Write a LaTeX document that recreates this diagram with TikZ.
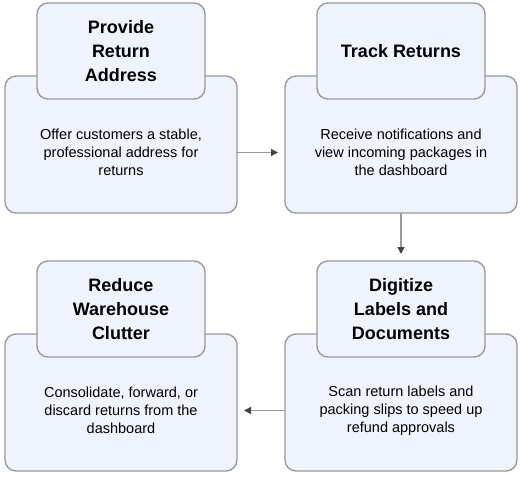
\documentclass[tikz,border=0pt]{standalone}
\usepackage{fontspec}
\setmainfont{Liberation Sans}
\usetikzlibrary{arrows.meta,positioning}
\definecolor{cardfill}{HTML}{EEF3FE}
\definecolor{cardline}{HTML}{9A9A9A}
\definecolor{tipgray}{HTML}{444444}

\begin{document}
\begin{tikzpicture}
[x=1pt,y=-1pt,
node distance=48pt,
card/.style={rectangle,rounded corners=11pt,draw=cardline,fill=cardfill,line width=1.4pt,
  outer sep=0pt,minimum width=232pt,minimum height=137pt},
head/.style={rectangle,rounded corners=11pt,draw=cardline,fill=cardfill,line width=1.4pt,
  outer sep=0pt,minimum width=168pt,minimum height=96pt,align=center,
  font=\fontsize{18}{24}\selectfont\bfseries},
desc/.style={align=center,font=\fontsize{14.5}{18}\selectfont},
flow/.style={-{Triangle[length=7pt,width=7pt,color=tipgray]},draw=cardline,line width=1.4pt,
  shorten >=7pt}]
\useasboundingbox (0,0) rectangle (521,476);
% top row
\node[card] (provide body) at (121,144.5) {};
\node[card] (track body) [right=of provide body] {};
\node[head] (provide) [above=-23pt of provide body] {Provide\\Return\\Address};
\node[head] (track) [above=-23pt of track body] {Track Returns};
% bottom row
\node[card] (digitize body) [below=121pt of track body] {};
\node[card] (reduce body) [left=of digitize body] {};
\node[head] (digitize) [above=-23pt of digitize body] {Digitize\\Labels and\\Documents};
\node[head] (reduce) [above=-23pt of reduce body] {Reduce\\Warehouse\\Clutter};
% texts
\node[desc] (provide text) at ([yshift=-8pt]provide body.center)
  {Offer customers a stable,\\professional address for\\returns};
\node[desc] (track text) at ([yshift=-8pt]track body.center)
  {Receive notifications and\\view incoming packages in\\the dashboard};
\node[desc] (digitize text) at ([yshift=-8pt]digitize body.center)
  {Scan return labels and\\packing slips to speed up\\refund approvals};
\node[desc] (reduce text) at ([yshift=-8pt]reduce body.center)
  {Consolidate, forward, or\\discard returns from the\\dashboard};
% arrows
\draw[flow] ([yshift=-8pt]provide body.east) -- ([yshift=-8pt]track body.west);
\draw[flow] (track body.south) -- (digitize.north);
\draw[flow] ([yshift=-8pt]digitize body.west) -- ([yshift=-8pt]reduce body.east);
\end{tikzpicture}
\end{document}
